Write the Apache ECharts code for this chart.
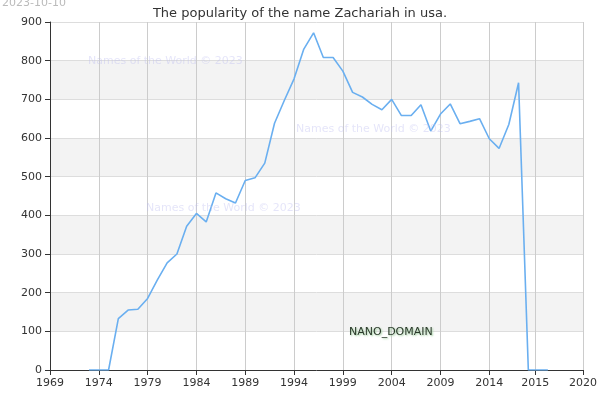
<!DOCTYPE html>
<html><head><meta charset="utf-8">
<script src="https://cdn.jsdelivr.net/npm/echarts@6/dist/echarts.min.js"></script>
<style>body{margin:0}#main{width:600px;height:400px}</style>
</head><body><div id="main"></div>
<script>
var years = [1973,1974,1975,1976,1977,1978,1979,1980,1981,1982,1983,1984,1985,1986,1987,1988,1989,1990,1991,1992,1993,1994,1995,1996,1997,1998,1999,2000,2001,2002,2003,2004,2005,2006,2007,2008,2009,2010,2011,2012,2013,2014,2015,2016,2017,2018,2019,2020];
var counts = [0,0,0,133,155,157,185,233,277,300,372,405,383,458,443,432,490,497,535,638,697,753,830,872,808,808,773,718,706,687,673,700,658,658,686,618,662,688,637,643,650,598,573,635,743,0,0,0];
var tickValues = [1969,1974,1979,1984,1989,1994,1999,2004,2009,2014,2018.7,2023.6];
var tickLabels = ['1969','1974','1979','1984','1989','1994','1999','2004','2009','2014','2015','2020'];

var chart = echarts.init(document.getElementById('main'));
var wmColor = 'rgba(190,190,240,0.4)';
chart.setOption({
  animation:false,
  title:{text:'The popularity of the name Zachariah in usa.', left:'center', top:2,
    textStyle:{fontSize:13, fontWeight:'normal', color:'#333', fontFamily:'DejaVu Sans'}},
  graphic:[
    {type:'text', z:100, left:2, top:-2, style:{text:'2023-10-10', fill:'#bbb', fontSize:11, fontFamily:'DejaVu Sans'}},
    {type:'text', z:100, left:88, top:56, style:{text:'Names of the World © 2023', fill:wmColor, fontSize:11, fontFamily:'DejaVu Sans'}},
    {type:'text', z:100, left:296, top:124, style:{text:'Names of the World © 2023', fill:wmColor, fontSize:11, fontFamily:'DejaVu Sans'}},
    {type:'text', z:100, left:146, top:203, style:{text:'Names of the World © 2023', fill:wmColor, fontSize:11, fontFamily:'DejaVu Sans'}},
    {type:'text', z:100, left:349, top:327, style:{text:'NANO_DOMAIN', fill:'#2b3a2b', fontSize:11, fontFamily:'DejaVu Sans', textShadowColor:'#9c9', textShadowBlur:2, textShadowOffsetX:1, textShadowOffsetY:1}}
  ],
  grid:{left:50, right:15, top:22, bottom:30},
  xAxis:{type:'value', min:1969, max:2023.6,
    axisLine:{lineStyle:{color:'#333'}},
    axisTick:{customValues:tickValues, lineStyle:{color:'#333'}},
    axisLabel:{customValues:tickValues, color:'#333', fontSize:11, fontFamily:'DejaVu Sans',
      formatter:function(v){ var i=tickValues.indexOf(v); return i>=0?tickLabels[i]:''; }},
    splitLine:{show:true, lineStyle:{color:'#ccc'}}
  },
  yAxis:{type:'value', min:0, max:900, interval:100,
    axisLine:{show:true, lineStyle:{color:'#333'}},
    axisTick:{show:true},
    axisLabel:{color:'#333', fontSize:11, fontFamily:'DejaVu Sans'},
    splitLine:{lineStyle:{color:'#ddd'}},
    splitArea:{show:true, areaStyle:{color:['#fff','#f3f3f3']}}
  },
  series:[{type:'line', data:years.map(function(y,i){return [y,counts[i]];}),
    showSymbol:false, lineStyle:{color:'#6aaff0', width:1.6}, itemStyle:{color:'#6aaff0'}}]
});
</script></body></html>
